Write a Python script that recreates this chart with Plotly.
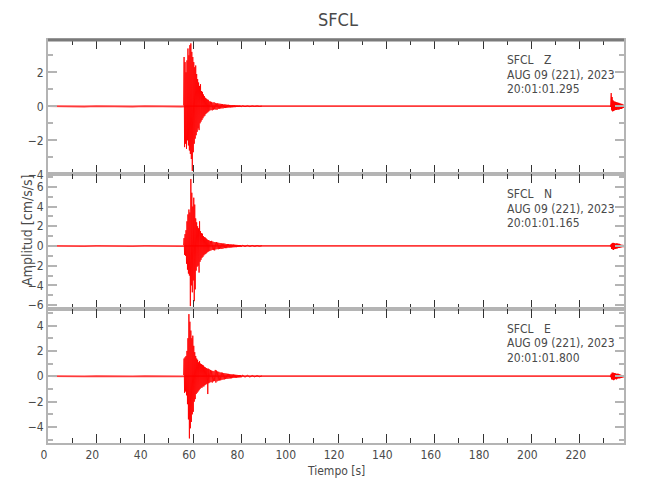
import numpy as np
import plotly.graph_objects as go
from plotly.subplots import make_subplots

# ---------------- data ----------------
STATION = "SFCL"
COMPONENTS = ["Z", "N", "E"]
DATE_LABEL = "AUG 09 (221), 2023"
START_TIMES = ["20:01:01.295", "20:01:01.165", "20:01:01.800"]

# sampled segments of the event part: start time [s] and sample spacing [s]
EV_START = [56.1, 66.7, 80.5]
EV_DT = [0.2, 0.25, 1.0]
# background noise segments (before / after the event)
BG_START = [0.0, 89.0]
BG_DT = [5.0, 8.0]
# late arrival at the end of the record
END_START = 232.6
END_DT = 0.2

# ---- Z component [cm/s/s]
z_pre = [0.01, -0.01, 0.01, -0.01, 0.01, -0.01, 0.01, -0.01, 0.01, -0.01, 0.01, -0.01, 0.01]
z_event = [0.05, 2.9, -2.4, 2.6, -2.2, 2.0, -2.5, 2.7, -2.0, 3.4, -2.3, 3.0, -2.6,
           3.6, -2.8, 3.7, -3.1, 3.2, -3.8, 2.9, -2.7, 2.6, -2.2, 2.3, -1.9, 2.4,
           -1.7, 1.9, -1.5, 1.6, -1.3, 1.4, -1.4, 1.2, -1.0, 1.3, -0.9, 0.9, -0.8,
           0.85, -0.7, 0.7, -0.6, 0.6, -0.55, 0.5, -0.45, 0.45, -0.4, 0.4, -0.35,
           0.38, -0.3]
z_tail = [0.3, -0.25, 0.28, -0.22, 0.26, -0.24, 0.22, -0.2, 0.24, -0.18, 0.2, -0.19,
          0.17, -0.2, 0.18, -0.15, 0.16, -0.14, 0.15, -0.13, 0.14, -0.12, 0.13, -0.12,
          0.11, -0.1, 0.12, -0.1, 0.1, -0.09, 0.09, -0.08, 0.09, -0.07, 0.08, -0.07,
          0.07, -0.06, 0.07, -0.06, 0.06, -0.05, 0.06, -0.05, 0.05, -0.04, 0.05, -0.04,
          0.04, -0.04, 0.04, -0.03, 0.03, -0.03]
z_coda = [0.03, -0.02, 0.02, -0.02, 0.02, -0.01, 0.02, -0.01, 0.01]
z_post = [0.01, -0.01, 0.01, -0.01, 0.01, -0.01, 0.01, -0.01, 0.01, -0.01, 0.01,
          -0.01, 0.01, -0.01, 0.01, -0.01, 0.01, -0.01, 0.01]
z_end = [0.03, -0.03, 0.78, -0.24, 0.55, -0.3, 0.35, -0.28, 0.3, -0.25, 0.28, -0.22,
         0.25, -0.22, 0.24, -0.2, 0.22, -0.2, 0.2, -0.18, 0.18, -0.16, 0.16, -0.15,
         0.14, -0.12, 0.12, -0.1, 0.1]

# ---- N component [cm/s/s]
n_pre = [0.01, -0.01, 0.01, -0.01, 0.01, -0.01, 0.01, -0.01, 0.01, -0.01, 0.01, -0.01, 0.01]
n_event = [0.1, 0.8, -0.9, 1.2, -1.0, 1.6, -1.8, 2.5, -2.4, 3.2, -2.8, 3.7, -3.0,
           3.4, -6.1, 6.8, -4.0, 5.4, -4.7, 4.0, -3.5, 4.9, -5.6, 4.2, -4.4, 2.8,
           -2.5, 2.4, -2.1, 2.0, -2.0, 1.8, -2.7, 2.5, -1.6, 1.5, -1.4, 1.3, -1.2,
           1.25, -1.1, 1.0, -0.95, 0.9, -0.85, 0.85, -0.8, 0.75, -0.7, 0.65, -0.6,
           0.6, -0.55]
n_tail = [0.55, -0.5, 0.5, -0.45, 0.52, -0.4, 0.45, -0.42, 0.4, -0.45, 0.38, -0.35,
          0.4, -0.32, 0.35, -0.33, 0.32, -0.3, 0.3, -0.28, 0.28, -0.3, 0.25, -0.26,
          0.26, -0.22, 0.24, -0.22, 0.2, -0.22, 0.2, -0.18, 0.19, -0.18, 0.17, -0.16,
          0.18, -0.15, 0.15, -0.14, 0.15, -0.13, 0.13, -0.12, 0.12, -0.12, 0.11, -0.1,
          0.1, -0.1, 0.09, -0.09, 0.09, -0.08]
n_coda = [0.08, -0.06, 0.07, -0.05, 0.05, -0.05, 0.04, -0.03, 0.03]
n_post = [0.01, -0.01, 0.01, -0.01, 0.01, -0.01, 0.01, -0.01, 0.01, -0.01, 0.01,
          -0.01, 0.01, -0.01, 0.01, -0.01, 0.01, -0.01, 0.01]
n_end = [0.05, -0.05, 0.2, -0.3, 0.3, -0.35, 0.32, -0.4, 0.3, -0.3, 0.28, -0.3, 0.25,
         -0.28, 0.3, -0.25, 0.22, -0.2, 0.25, -0.2, 0.2, -0.18, 0.15, -0.15, 0.12,
         -0.12, 0.1, -0.1, 0.08]

# ---- E component [cm/s/s]
e_pre = [0.01, -0.01, 0.01, -0.01, 0.01, -0.01, 0.01, -0.01, 0.01, -0.01, 0.01, -0.01, 0.01]
e_event = [0.1, 1.4, -1.3, 1.5, -1.2, 1.6, -1.5, 2.0, -2.2, 3.0, -3.4, 4.9, -4.9,
           4.3, -4.1, 3.6, -3.6, 3.0, -3.0, 3.2, -2.8, 2.4, -2.0, 1.9, -1.8, 1.6,
           -1.4, 1.4, -1.3, 1.3, -1.2, 1.1, -1.1, 1.2, -1.0, 1.0, -0.9, 0.95, -0.9,
           0.9, -0.8, 0.85, -0.8, 0.75, -0.7, 0.7, -0.65, 0.65, -0.6, 0.6, -1.4,
           0.6, -0.55]
e_tail = [0.55, -0.5, 0.5, -0.45, 0.45, -0.5, 0.42, -0.4, 0.4, -0.38, 0.5, -0.5,
          0.45, -0.4, 0.38, -0.35, 0.35, -0.33, 0.3, -0.32, 0.3, -0.28, 0.28, -0.26,
          0.25, -0.25, 0.24, -0.22, 0.22, -0.2, 0.2, -0.2, 0.19, -0.18, 0.18, -0.17,
          0.16, -0.16, 0.15, -0.14, 0.15, -0.13, 0.13, -0.13, 0.12, -0.12, 0.11, -0.1,
          0.1, -0.1, 0.1, -0.09, 0.09, -0.08]
e_coda = [0.1, -0.08, 0.08, -0.07, 0.06, -0.05, 0.05, -0.04, 0.03]
e_post = [0.01, -0.01, 0.01, -0.01, 0.01, -0.01, 0.01, -0.01, 0.01, -0.01, 0.01,
          -0.01, 0.01, -0.01, 0.01, -0.01, 0.01, -0.01, 0.01]
e_end = [0.04, -0.05, 0.2, -0.25, 0.3, -0.28, 0.3, -0.3, 0.25, -0.28, 0.25, -0.22,
         0.22, -0.25, 0.2, -0.2, 0.22, -0.18, 0.18, -0.16, 0.15, -0.15, 0.12, -0.12,
         0.1, -0.1, 0.08, -0.08, 0.06]

Y_RANGES = [[-4.0, 3.9], [-6.36, 7.27], [-5.26, 5.33]]
X_RANGE = [0, 238.3]
X_TICKS = list(range(0, 240, 20))

DATA = {
    "Z": dict(bg=[z_pre, z_post], ev=[z_event, z_tail, z_coda], end=z_end),
    "N": dict(bg=[n_pre, n_post], ev=[n_event, n_tail, n_coda], end=n_end),
    "E": dict(bg=[e_pre, e_post], ev=[e_event, e_tail, e_coda], end=e_end),
}


def assemble(starts, dts, segs):
    t, v = [], []
    for start, dt, vals in zip(starts, dts, segs):
        t.extend(start + dt * np.arange(len(vals)))
        v.extend(vals)
    return np.array(t), np.array(v)


# ---------------- figure ----------------
FONT = "DejaVu Sans Condensed, Liberation Sans Narrow, sans-serif"
TXT = "#4a4a4a"

fig = make_subplots(rows=3, cols=1, shared_xaxes=True, vertical_spacing=0)

for i, comp in enumerate(COMPONENTS):
    d = DATA[comp]
    tb, vb = assemble(BG_START, BG_DT, d["bg"])
    fig.add_trace(go.Scatter(x=tb, y=vb, mode="lines",
                             line=dict(color="#ff3a3a", width=1.8),
                             showlegend=False, hoverinfo="skip"),
                  row=i + 1, col=1)
    te, ve = assemble(EV_START, EV_DT, d["ev"])
    fig.add_trace(go.Scatter(x=te, y=ve, mode="lines",
                             line=dict(color="#ff0000", width=0.9),
                             showlegend=False, hoverinfo="skip"),
                  row=i + 1, col=1)
    tn, vn = assemble([END_START], [END_DT], [d["end"]])
    fig.add_trace(go.Scatter(x=tn, y=vn, mode="lines",
                             line=dict(color="#ff0000", width=1.2),
                             showlegend=False, hoverinfo="skip"),
                  row=i + 1, col=1)

fig.update_xaxes(range=X_RANGE, tickmode="array", tickvals=X_TICKS,
                 ticks="inside", ticklen=9, tickwidth=1, tickcolor="#333333",
                 showline=True, linecolor="#b4b4b4", linewidth=2, mirror="ticks",
                 showgrid=False, zeroline=False, automargin=False,
                 ticklabelshift=-4,
                 minor=dict(dtick=10, tick0=0, ticks="inside", ticklen=5,
                            tickwidth=1, tickcolor="#333333"),
                 tickfont=dict(family=FONT, size=12, color=TXT))

for i in range(3):
    fig.update_yaxes(range=Y_RANGES[i], dtick=2, tick0=0,
                     ticks="inside", ticklen=9, tickwidth=2, tickcolor="#b4b4b4",
                     showline=True, linecolor="#b4b4b4", linewidth=2, mirror="ticks",
                     showgrid=False, zeroline=False, automargin=False,
                     minor=dict(dtick=1, tick0=0, ticks="inside", ticklen=5,
                                tickwidth=2, tickcolor="#b4b4b4"),
                     tickfont=dict(family=FONT, size=12, color=TXT),
                     row=i + 1, col=1)

# The page body adds an 8 px margin; the figure is sized to fill the rest.
PAGE = 8
W, H = 650 - PAGE, 500 - PAGE
PLOT_L, PLOT_T, PLOT_R, PLOT_B = 48, 40, 624, 443   # plot frame in the window
L, T = PLOT_L - PAGE, PLOT_T - PAGE
R, B = W - (PLOT_R - PAGE), H - (PLOT_B - PAGE)
PW, PH = W - L - R, H - T - B
panel_h = PH / 3.0


def px_x(x):  # window x -> paper
    return (x - PAGE - L) / PW


def px_y(y):  # window y -> paper
    return (H - B - (y - PAGE)) / PH


annotations = []
for i, comp in enumerate(COMPONENTS):
    top_px = PLOT_T + panel_h * i
    lines = [f"{STATION}&nbsp;&nbsp;&nbsp;{comp}", DATE_LABEL, START_TIMES[i]]
    for off, txt in zip([20, 34.5, 49], lines):
        annotations.append(dict(
            text=txt, xref="paper", yref="paper",
            x=px_x(505), y=px_y(top_px + off),
            xanchor="left", yanchor="middle", showarrow=False,
            font=dict(family=FONT, size=12, color=TXT)))

annotations.append(dict(text="Tiempo [s]", xref="paper", yref="paper",
                        x=px_x(336), y=px_y(471),
                        xanchor="center", yanchor="middle", showarrow=False,
                        font=dict(family=FONT, size=12, color=TXT)))
annotations.append(dict(text="Amplitud [cm/s/s]", xref="paper", yref="paper",
                        x=px_x(27), y=px_y(231), textangle=-90,
                        xanchor="center", yanchor="middle", showarrow=False,
                        font=dict(family=FONT, size=14, color=TXT)))
annotations.append(dict(text=STATION, xref="paper", yref="paper",
                        x=px_x(338), y=px_y(20),
                        xanchor="center", yanchor="middle", showarrow=False,
                        font=dict(family=FONT, size=18, color=TXT)))

fig.update_layout(
    template="none",
    width=W, height=H,
    margin=dict(l=L, r=R, t=T, b=B, autoexpand=False),
    paper_bgcolor="white", plot_bgcolor="white",
    annotations=annotations,
    shapes=[dict(type="line", xref="paper", yref="paper", x0=0, x1=1, y0=1, y1=1,
                 line=dict(color="#7a7a7a", width=3))],
)

fig.write_html("out.html")
